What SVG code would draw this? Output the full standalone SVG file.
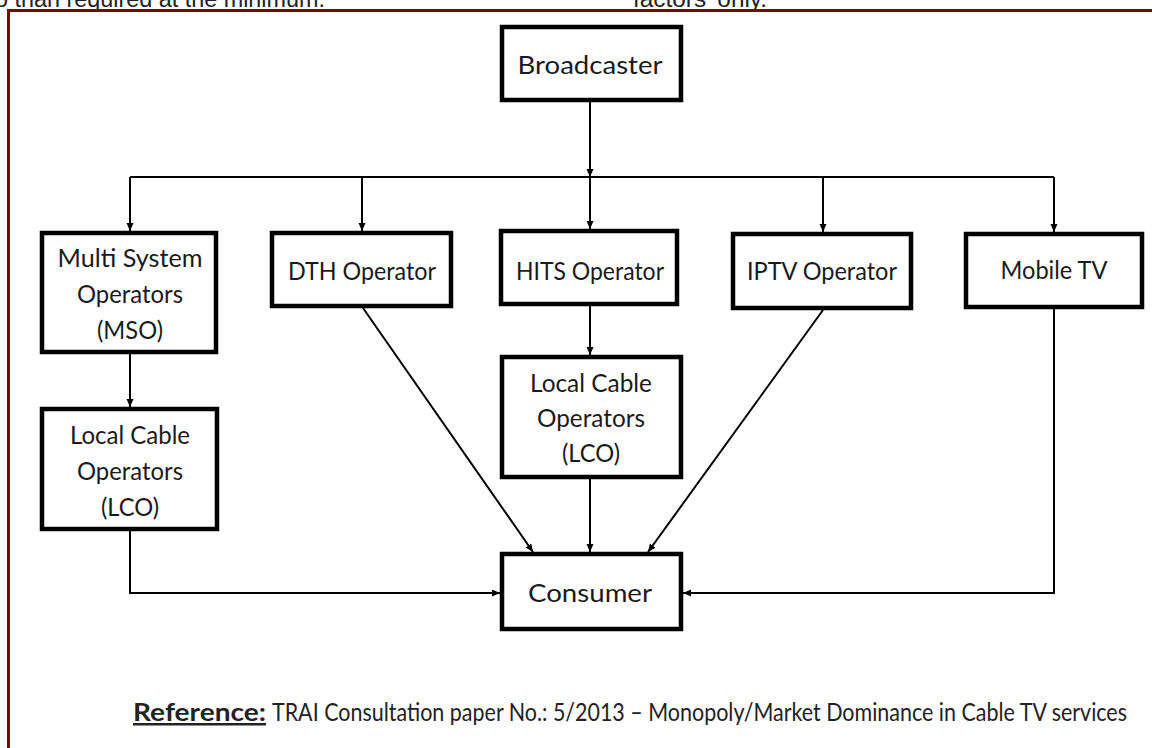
<svg xmlns="http://www.w3.org/2000/svg" width="1152" height="748" viewBox="0 0 1152 748">
<style>
.box{fill:#fff;stroke:#000;stroke-width:4.5}
.lbl{font-family:Lato,"Open Sans",sans-serif;font-size:25px;fill:#1a1a1a;text-anchor:middle}
.top{font-family:"Liberation Sans",Arial,sans-serif;font-size:23px;fill:#222}
.ref{font-family:Lato,"Open Sans",sans-serif;font-size:25px;fill:#222}
.con{fill:none;stroke:#000;stroke-width:2}
</style>
<defs>
<marker id="ah" markerWidth="9" markerHeight="8" refX="8" refY="3.5" orient="auto" markerUnits="userSpaceOnUse">
<path d="M0,0 L8,3.5 L0,7 z" fill="#000"/>
</marker>
</defs>
<rect x="0" y="0" width="1152" height="748" fill="#fff"/>
<text class="top" x="-5" y="7" textLength="330" lengthAdjust="spacingAndGlyphs">o than required at the minimum.</text>
<text class="top" x="633" y="7" textLength="134" lengthAdjust="spacingAndGlyphs">factors’ only.</text>
<path d="M8.5 748 V10.5 H1152" fill="none" stroke="#800000" stroke-width="3"/>

<g id="connectors">
<line class="con" x1="590" y1="102" x2="590" y2="177" marker-end="url(#ah)"/>
<line class="con" x1="590" y1="177" x2="590" y2="229" marker-end="url(#ah)"/>
<line class="con" x1="130" y1="177" x2="1054" y2="177" stroke-width="1.6"/>
<line class="con" x1="130" y1="177" x2="130" y2="231" marker-end="url(#ah)"/>
<line class="con" x1="362" y1="177" x2="362" y2="231" marker-end="url(#ah)"/>
<line class="con" x1="823" y1="177" x2="823" y2="232" marker-end="url(#ah)"/>
<line class="con" x1="1054" y1="177" x2="1054" y2="232" marker-end="url(#ah)"/>
<line class="con" x1="130" y1="354" x2="130" y2="407" marker-end="url(#ah)"/>
<line class="con" x1="590" y1="306" x2="590" y2="355" marker-end="url(#ah)"/>
<line class="con" x1="590" y1="479" x2="590" y2="552" marker-end="url(#ah)"/>
<line class="con" x1="363" y1="308" x2="533" y2="552" marker-end="url(#ah)"/>
<line class="con" x1="823" y1="310" x2="648" y2="552" marker-end="url(#ah)"/>
<path class="con" d="M130 531 V593 H500" marker-end="url(#ah)"/>
<path class="con" d="M1054 309 V593 H683" marker-end="url(#ah)"/>
</g>

<g id="broadcaster">
<rect class="box" x="502" y="27" width="179" height="73"/>
<text class="lbl" x="590" y="74" textLength="145" lengthAdjust="spacingAndGlyphs">Broadcaster</text>
</g>
<g id="mso">
<rect class="box" x="42" y="233" width="174" height="119"/>
<text class="lbl" x="130" y="267" textLength="145" lengthAdjust="spacingAndGlyphs">Multi System</text>
<text class="lbl" x="130" y="303" textLength="106" lengthAdjust="spacingAndGlyphs">Operators</text>
<text class="lbl" x="130" y="339" textLength="66" lengthAdjust="spacingAndGlyphs">(MSO)</text>
</g>
<g id="dth">
<rect class="box" x="272" y="233" width="179" height="73"/>
<text class="lbl" x="362" y="280" textLength="148" lengthAdjust="spacingAndGlyphs">DTH Operator</text>
</g>
<g id="hits">
<rect class="box" x="501" y="231" width="176" height="73"/>
<text class="lbl" x="590" y="280" textLength="148" lengthAdjust="spacingAndGlyphs">HITS Operator</text>
</g>
<g id="iptv">
<rect class="box" x="733" y="234" width="178" height="74"/>
<text class="lbl" x="822" y="280" textLength="150" lengthAdjust="spacingAndGlyphs">IPTV Operator</text>
</g>
<g id="mobile">
<rect class="box" x="966" y="234" width="176" height="73"/>
<text class="lbl" x="1054" y="279" textLength="107" lengthAdjust="spacingAndGlyphs">Mobile TV</text>
</g>
<g id="lco-left">
<rect class="box" x="42" y="409" width="175" height="120"/>
<text class="lbl" x="130" y="444" textLength="120" lengthAdjust="spacingAndGlyphs">Local Cable</text>
<text class="lbl" x="130" y="480" textLength="106" lengthAdjust="spacingAndGlyphs">Operators</text>
<text class="lbl" x="130" y="516" textLength="58" lengthAdjust="spacingAndGlyphs">(LCO)</text>
</g>
<g id="lco-mid">
<rect class="box" x="502" y="357" width="179" height="120"/>
<text class="lbl" x="591" y="392" textLength="122" lengthAdjust="spacingAndGlyphs">Local Cable</text>
<text class="lbl" x="591" y="427" textLength="108" lengthAdjust="spacingAndGlyphs">Operators</text>
<text class="lbl" x="591" y="462" textLength="58" lengthAdjust="spacingAndGlyphs">(LCO)</text>
</g>
<g id="consumer">
<rect class="box" x="502" y="554" width="179" height="75"/>
<text class="lbl" x="590" y="602" textLength="124" lengthAdjust="spacingAndGlyphs">Consumer</text>
</g>

<g id="reference">
<text class="ref" x="133" y="721" font-weight="bold" text-decoration="underline" textLength="133" lengthAdjust="spacingAndGlyphs">Reference:</text>
<text class="ref" x="272" y="721" textLength="855" lengthAdjust="spacingAndGlyphs">TRAI Consultation paper No.: 5/2013 – Monopoly/Market Dominance in Cable TV services</text>
</g>
</svg>
